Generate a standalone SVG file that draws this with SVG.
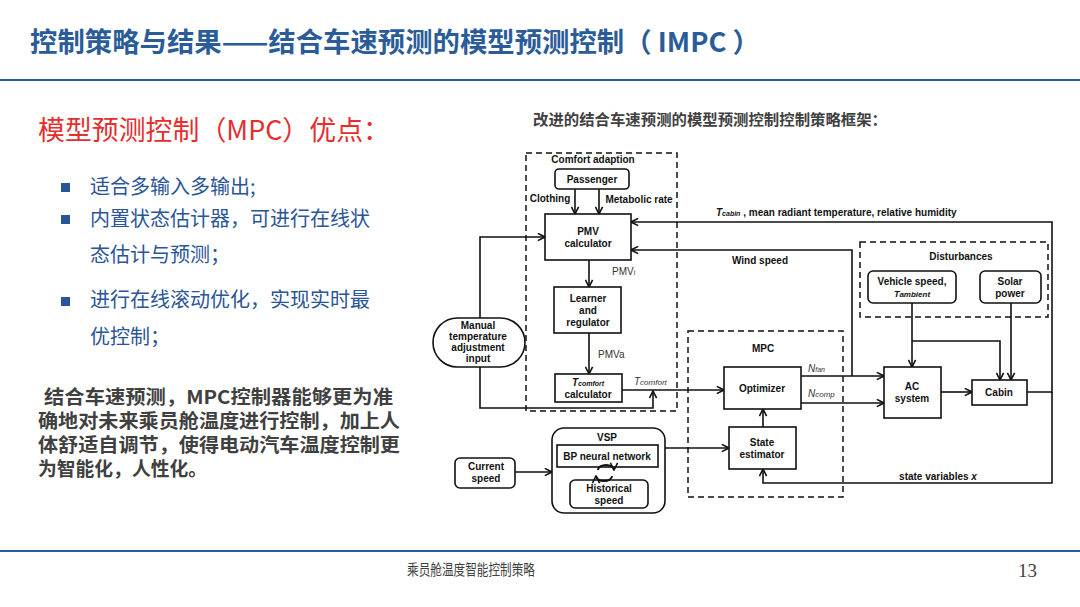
<svg xmlns="http://www.w3.org/2000/svg" width="1080" height="607" viewBox="0 0 1080 607">
<defs>
<style>
.cjk{font-family:"Noto Sans CJK SC","Noto Sans",sans-serif}
.d{font-family:"Liberation Sans",Arial,sans-serif;font-size:10px;font-weight:bold;fill:#111;text-anchor:middle}
.dl{font-family:"Liberation Sans",Arial,sans-serif;font-size:10px;fill:#333}
.box{fill:#fff;stroke:#111;stroke-width:1.6}
.dash{fill:none;stroke:#111;stroke-width:1.5;stroke-dasharray:6,4}
.ln{fill:none;stroke:#111;stroke-width:1.6}
.bul{fill:#2a5597}
.bt{font-size:20px;fill:#2a5597}
.bp{font-size:19px;font-weight:bold;fill:#404040}
</style>
<marker id="ar" viewBox="0 0 10 10" refX="9" refY="5" markerWidth="9" markerHeight="9" markerUnits="userSpaceOnUse" orient="auto">
<path d="M1,1 L9,5 L1,9" fill="none" stroke="#111" stroke-width="1.8"/>
</marker>
</defs>
<rect width="1080" height="607" fill="#fff"/>

<!-- header / footer -->
<text class="cjk" x="30" y="52" font-size="27" font-weight="bold" fill="#2b5c9a" textLength="730" lengthAdjust="spacingAndGlyphs">控制策略与结果——结合车速预测的模型预测控制（ IMPC ）</text>
<line x1="0" y1="80" x2="1080" y2="80" stroke="#2b5c9a" stroke-width="2"/>
<line x1="0" y1="551" x2="1080" y2="551" stroke="#2b5c9a" stroke-width="2"/>
<text class="cjk" x="407" y="575" font-size="15" fill="#404040" textLength="128" lengthAdjust="spacingAndGlyphs">乘员舱温度智能控制策略</text>
<text x="1018" y="577" font-family="Liberation Serif,serif" font-size="19" fill="#404040">13</text>

<!-- left text -->
<text class="cjk" x="38" y="140" font-size="27" fill="#e52e2e" textLength="352" lengthAdjust="spacingAndGlyphs">模型预测控制（MPC）优点：</text>
<rect class="bul" x="61" y="183" width="9" height="9"/>
<rect class="bul" x="61" y="215" width="9" height="9"/>
<rect class="bul" x="61" y="297" width="9" height="9"/>
<text class="cjk bt" x="90" y="194">适合多输入多输出;</text>
<text class="cjk bt" x="90" y="226">内置状态估计器，可进行在线状</text>
<text class="cjk bt" x="90" y="262">态估计与预测；</text>
<text class="cjk bt" x="90" y="307">进行在线滚动优化，实现实时最</text>
<text class="cjk bt" x="90" y="344">优控制；</text>
<text class="cjk bp" x="44" y="404" textLength="349" lengthAdjust="spacingAndGlyphs">结合车速预测，MPC控制器能够更为准</text>
<text class="cjk bp" x="38" y="428" textLength="362" lengthAdjust="spacingAndGlyphs">确地对未来乘员舱温度进行控制，加上人</text>
<text class="cjk bp" x="38" y="452" textLength="362" lengthAdjust="spacingAndGlyphs">体舒适自调节，使得电动汽车温度控制更</text>
<text class="cjk bp" x="38" y="476" textLength="169" lengthAdjust="spacingAndGlyphs">为智能化，人性化。</text>

<text class="cjk" x="533" y="125" font-size="15" font-weight="bold" fill="#404040" textLength="354" lengthAdjust="spacingAndGlyphs">改进的结合车速预测的模型预测控制控制策略框架：</text>

<!-- dashed groups -->
<g id="comfort-adaption">
<rect class="dash" x="526" y="153" width="151" height="258"/>
<text class="d" x="593" y="163">Comfort adaption</text>
</g>
<g id="mpc">
<rect class="dash" x="688" y="331" width="155" height="166"/>
<text class="d" x="763" y="352">MPC</text>
</g>
<g id="disturbances">
<rect class="dash" x="860" y="242" width="188" height="75"/>
<text class="d" x="961" y="260">Disturbances</text>
</g>

<!-- connectors -->
<g id="connectors">
<path class="ln" d="M575,189 V214" marker-end="url(#ar)"/>
<path class="ln" d="M599,189 V214" marker-end="url(#ar)"/>
<path class="ln" d="M480,318 V237 H545" marker-end="url(#ar)"/>
<path class="ln" d="M480,367 V408 H653 V391" marker-end="url(#ar)"/>
<path class="ln" d="M589,260 V287" marker-end="url(#ar)"/>
<path class="ln" d="M589,333 V374" marker-end="url(#ar)"/>
<path class="ln" d="M622,390 H724" marker-end="url(#ar)"/>
<path class="ln" d="M801,376 H884" marker-end="url(#ar)"/>
<path class="ln" d="M801,403 H884" marker-end="url(#ar)"/>
<path class="ln" d="M852,376 V250 H631" marker-end="url(#ar)"/>
<path class="ln" d="M1027,392 H1052 V222 H631" marker-end="url(#ar)"/>
<path class="ln" d="M1052,392 V483 H763 V469" marker-end="url(#ar)"/>
<path class="ln" d="M763,427 V409" marker-end="url(#ar)"/>
<path class="ln" d="M941,392 H972" marker-end="url(#ar)"/>
<path class="ln" d="M912,303 V367" marker-end="url(#ar)"/>
<path class="ln" d="M912,341 H1000 V380" marker-end="url(#ar)"/>
<path class="ln" d="M1011,303 V380" marker-end="url(#ar)"/>
<path class="ln" d="M665,448 H729" marker-end="url(#ar)"/>
<path class="ln" d="M515,472 H552" marker-end="url(#ar)"/>
<text class="d" x="550" y="202">Clothing</text>
<text class="d" x="639" y="203">Metabolic rate</text>
<text class="dl" x="612" y="275">PMV<tspan font-size="7">i</tspan></text>
<text class="dl" x="598" y="358">PMVa</text>
<text class="dl" x="634" y="385" font-style="italic">T<tspan font-size="8">comfort</tspan></text>
<text class="dl" x="808" y="372" font-style="italic">N<tspan font-size="7">fan</tspan></text>
<text class="dl" x="808" y="397" font-style="italic">N<tspan font-size="8">comp</tspan></text>
<text class="d" x="716" y="216" style="text-anchor:start"><tspan font-style="italic">T</tspan><tspan font-style="italic" font-size="7">cabin</tspan> , mean radiant temperature, relative humidity</text>
<text class="d" x="760" y="264">Wind speed</text>
<text class="d" x="938" y="480">state variables <tspan font-style="italic">x</tspan></text>
</g>

<!-- nodes -->
<g id="passenger"><rect class="box" x="555" y="169" width="74" height="20" rx="4"/><text class="d" x="592" y="182.5">Passenger</text></g>
<g id="pmv-calculator"><rect class="box" x="545" y="214" width="86" height="46"/><text class="d" x="588" y="235">PMV</text><text class="d" x="588" y="247">calculator</text></g>
<g id="learner"><rect class="box" x="554" y="287" width="67" height="46"/><text class="d" x="588" y="302">Learner</text><text class="d" x="588" y="314">and</text><text class="d" x="588" y="326">regulator</text></g>
<g id="tcomfort-calculator"><rect class="box" x="555" y="374" width="67" height="28"/><text class="d" x="588" y="386"><tspan font-style="italic">T</tspan><tspan font-style="italic" font-size="7">comfort</tspan></text><text class="d" x="588" y="398">calculator</text></g>
<g id="manual-input"><rect class="box" x="433" y="318" width="92" height="49" rx="24.5"/><text class="d" x="478" y="329">Manual</text><text class="d" x="478" y="340">temperature</text><text class="d" x="478" y="351">adjustment</text><text class="d" x="478" y="362">input</text></g>
<g id="optimizer"><rect class="box" x="724" y="367" width="77" height="42"/><text class="d" x="762" y="392">Optimizer</text></g>
<g id="state-estimator"><rect class="box" x="729" y="427" width="67" height="42"/><text class="d" x="762" y="446">State</text><text class="d" x="762" y="458">estimator</text></g>
<g id="ac-system"><rect class="box" x="884" y="367" width="57" height="51"/><text class="d" x="912" y="390">AC</text><text class="d" x="912" y="402">system</text></g>
<g id="cabin"><rect class="box" x="972" y="380" width="55" height="25"/><text class="d" x="999" y="396">Cabin</text></g>
<g id="vehicle-speed"><rect class="box" x="868" y="271" width="88" height="32" rx="5"/><text class="d" x="912" y="285">Vehicle speed,</text><text class="d" x="912" y="297" style="font-size:8px;font-style:italic"><tspan style="font-size:9px">T</tspan>ambient</text></g>
<g id="solar-power"><rect class="box" x="980" y="271" width="61" height="32" rx="5"/><text class="d" x="1010" y="285">Solar</text><text class="d" x="1010" y="297">power</text></g>
<g id="vsp"><rect class="box" x="552" y="428" width="113" height="85" rx="12"/><text class="d" x="607" y="441">VSP</text>
<rect class="box" x="557" y="445" width="101" height="22"/><text class="d" x="607" y="460">BP neural network</text>
<rect class="box" x="570" y="480" width="78" height="28" rx="5"/><text class="d" x="609" y="492">Historical</text><text class="d" x="609" y="504">speed</text>
<path d="M598,470 A8,5 0 0 1 614,470" fill="none" stroke="#111" stroke-width="2" marker-end="url(#ar)"/>
<path d="M612,476 A8,5 0 0 1 596,476" fill="none" stroke="#111" stroke-width="2" marker-end="url(#ar)"/>
</g>
<g id="current-speed"><rect class="box" x="455" y="458" width="60" height="30" rx="5"/><text class="d" x="486" y="470">Current</text><text class="d" x="486" y="482">speed</text></g>
</svg>
